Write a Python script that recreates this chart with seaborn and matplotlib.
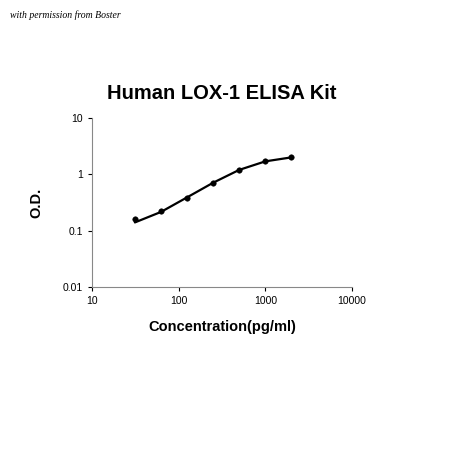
import matplotlib
matplotlib.use("Agg")
import matplotlib.pyplot as plt
import seaborn as sns
import pandas as pd

conc = [31.25, 62.5, 125, 250, 500, 1000, 2000]
od = [0.16, 0.22, 0.38, 0.70, 1.20, 1.70, 2.00]
fit = [0.14, 0.215, 0.39, 0.71, 1.20, 1.70, 2.00]

sns.set_style("white")
plt.rcParams['font.family'] = ['Liberation Sans', 'DejaVu Sans']
plt.rcParams['text.color'] = 'black'
plt.rcParams['axes.labelcolor'] = 'black'
plt.rcParams['xtick.color'] = 'black'
plt.rcParams['ytick.color'] = 'black'
fig = plt.figure(figsize=(4.5, 4.5), dpi=100)
ax = fig.add_axes([92/450, 1-287/450, 260/450, 169/450])
df = pd.DataFrame({"c": conc, "od": od, "fit": fit})
sns.lineplot(data=df, x="c", y="fit", ax=ax, color="black", lw=1.6)
sns.scatterplot(data=df, x="c", y="od", ax=ax, color="black", s=16, edgecolor="black")
ax.set_xscale("log"); ax.set_yscale("log")
ax.set_xlim(10, 10000); ax.set_ylim(0.01, 10)
ax.set_xticks([10, 100, 1000, 10000]); ax.set_xticklabels(["10", "100", "1000", "10000"])
ax.set_yticks([0.01, 0.1, 1, 10]); ax.set_yticklabels(["0.01", "0.1", "1", "10"])
ax.minorticks_off()
ax.tick_params(labelsize=7.5, length=3, direction="out", bottom=True, left=True)
for s in ["top", "right"]:
    ax.spines[s].set_visible(False)
for s in ["left", "bottom"]:
    ax.spines[s].set_color("#888888"); ax.spines[s].set_linewidth(0.8)
ax.set_xlabel("Concentration(pg/ml)", fontsize=10.5, fontweight="bold", labelpad=10)
ax.set_ylabel("O.D.", fontsize=10.5, fontweight="bold", labelpad=14)
ax.set_title("Human LOX-1 ELISA Kit", fontsize=14.5, fontweight="bold", pad=14)
fig.text(10/450, 1-18/450, "with permission from Boster", fontsize=7, style="italic",
         family=["Liberation Serif", "DejaVu Serif"])
fig.savefig("out.png", dpi=100)
